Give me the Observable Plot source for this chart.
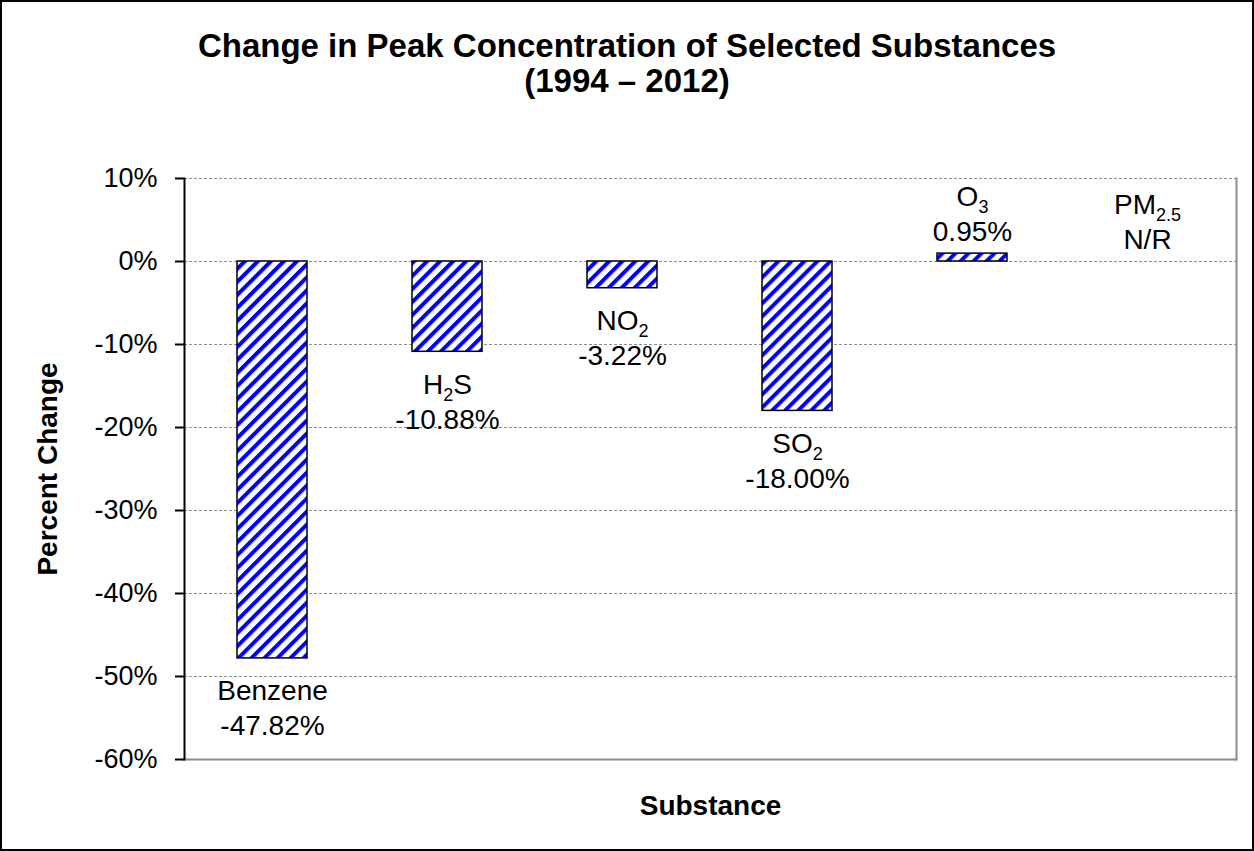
<!DOCTYPE html>
<html>
<head>
<meta charset="utf-8">
<script src="https://cdn.jsdelivr.net/npm/d3@7"></script>
<script src="https://cdn.jsdelivr.net/npm/@observablehq/plot@0.6"></script>
<style>
  html, body { margin: 0; padding: 0; background: #fff; }
  #chart {
    box-sizing: border-box; width: 1254px; height: 851px;
    border: 2px solid #000; background: #fff;
    font-family: "Liberation Sans", Arial, Helvetica, sans-serif;
  }
  #title {
    padding-top: 26px; height: 70px; text-align: center;
    font-weight: bold; font-size: 33px; line-height: 35px; color: #000;
  }
  #chart svg { display: block; }
</style>
</head>
<body>
<div id="chart">
  <div id="title">Change in Peak Concentration of Selected Substances<br>(1994 – 2012)</div>
</div>
<script>
// Substances and their change in peak concentration, 1994–2012 (percent).
const substances = ["Benzene", "H2S", "NO2", "SO2", "O3", "PM2.5"];
const percentChange = [-47.82, -10.88, -3.22, -18.00, 0.95, null];
const yTicks = [10, 0, -10, -20, -30, -40, -50, -60];
const notReported = "N/R";

const rows = substances.map((name, i) => ({ name, value: percentChange[i] }));
const valueText = d => d.value == null ? notReported : d.value.toFixed(2) + "%";
const labelText = d => d.name + "\n" + valueText(d);
const isDrop = d => d.value != null && d.value < 0;
const pct = d => d + "%";

const fontFamily = '"Liberation Sans", Arial, Helvetica, sans-serif';
const grid = "#8c8c8c";

const plot = Plot.plot({
  width: 1250,
  height: 751,
  marginLeft: 182,
  marginRight: 16,
  marginTop: 80,
  marginBottom: 90,
  style: { fontFamily, fontSize: "27px", color: "#000", background: "#fff", overflow: "visible" },
  x: { domain: substances, paddingInner: 0.6, paddingOuter: 0.3, axis: null },
  y: { domain: [-60, 10], ticks: yTicks, tickFormat: pct, label: null },
  marks: [
    // dashed horizontal gridlines
    Plot.ruleY(yTicks, { stroke: grid, strokeWidth: 1, strokeDasharray: "3,2" }),
    // plot-area border on the right and bottom
    Plot.frame({ anchor: "right", stroke: grid, strokeWidth: 2 }),
    Plot.frame({ anchor: "bottom", stroke: grid, strokeWidth: 2 }),
    // hatched bars
    Plot.barY(rows.filter(d => d.value != null), {
      x: "name", y: "value", fill: "url(#hatch)", stroke: "#000", strokeWidth: 1.5
    }),
    // value axis
    Plot.axisY({
      ticks: yTicks, tickFormat: pct, tickSize: 9, tickPadding: 18,
      stroke: "#000", strokeWidth: 2, fontSize: 27, label: null
    }),
    Plot.frame({ anchor: "left", stroke: "#000", strokeWidth: 2 }),
    // labels under the bars that drop below zero
    Plot.text(rows.filter(isDrop), {
      x: "name", y: "value", text: labelText,
      lineAnchor: "top", dy: 17, lineHeight: 1.25, fontSize: 28, fill: "#000"
    }),
    // labels above the rising bar and the unreported substance
    Plot.text(rows.filter(d => !isDrop(d)), {
      x: "name", y: d => d.value ?? 0, text: labelText,
      lineAnchor: "bottom", dy: -13, lineHeight: 1.25, fontSize: 28, fill: "#000"
    }),
    // axis titles
    Plot.text(["Percent Change"], {
      text: d => d, frameAnchor: "left", textAnchor: "middle", lineAnchor: "middle",
      rotate: -90, dx: -136, fontWeight: "bold", fontSize: 28, fill: "#000"
    }),
    Plot.text(["Substance"], {
      text: d => d, frameAnchor: "bottom", textAnchor: "middle", lineAnchor: "middle",
      dy: 47, fontWeight: "bold", fontSize: 28, fill: "#000"
    })
  ]
});

// Diagonal blue hatching used to fill the bars
const defs = d3.select(plot).insert("defs", ":first-child");
const pattern = defs.append("pattern")
  .attr("id", "hatch")
  .attr("patternUnits", "userSpaceOnUse")
  .attr("width", 9.2).attr("height", 9.2)
  .attr("patternTransform", "rotate(45)");
pattern.append("rect").attr("width", 9.2).attr("height", 9.2).attr("fill", "#fff");
pattern.append("rect").attr("width", 4).attr("height", 9.2).attr("fill", "#0000ff");

// Chemical formulas: the digits after an element symbol are set as subscripts
const svgNS = "http://www.w3.org/2000/svg";
for (const t of plot.querySelectorAll("text tspan")) {
  const s = t.textContent;
  if (!substances.includes(s)) continue;
  const parts = s.split(/(\d+(?:\.\d+)?)/);
  if (parts.length === 1) continue;
  t.textContent = "";
  parts.forEach((p, i) => {
    if (!p) return;
    const span = document.createElementNS(svgNS, "tspan");
    span.textContent = p;
    if (i % 2 === 1) {
      span.setAttribute("font-size", "18");
      span.setAttribute("baseline-shift", "-7");
    }
    t.appendChild(span);
  });
}

document.getElementById("chart").appendChild(plot);
</script>
</body>
</html>
